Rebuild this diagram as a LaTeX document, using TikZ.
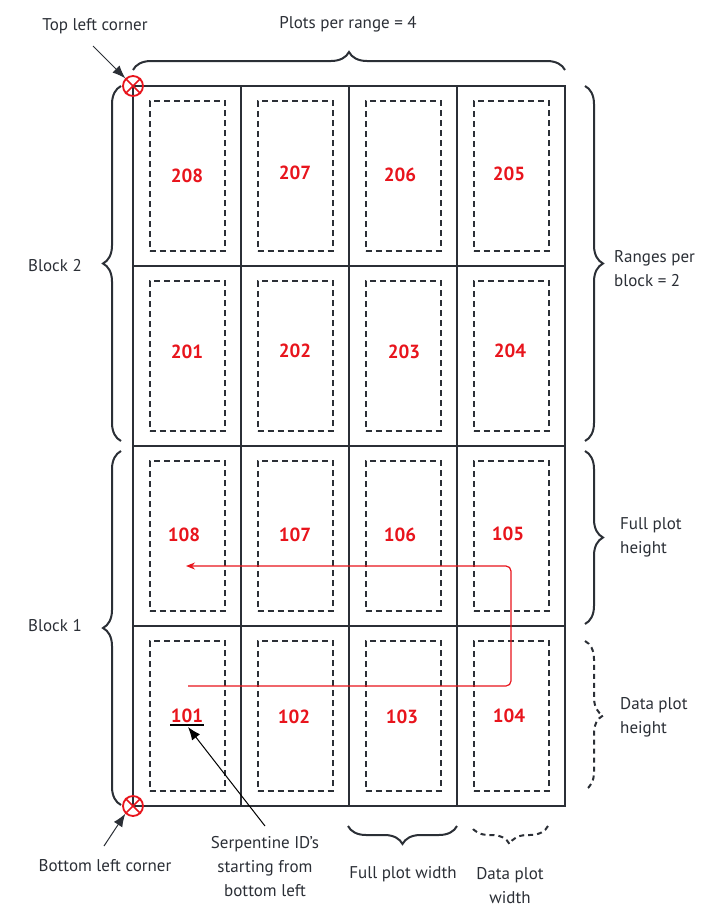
\documentclass[tikz,border=0pt]{standalone}
\usepackage{fontspec}
\setmainfont{PT Sans}
\usetikzlibrary{decorations.pathreplacing,arrows.meta}
\definecolor{ink}{HTML}{2B2F36}
\definecolor{idred}{HTML}{E8141C}
\begin{document}
\begin{tikzpicture}[x=1pt,y=-1pt,
 cell/.style={draw=ink,line width=2.2pt,minimum width=108pt,minimum height=180pt,inner sep=0pt},
 datarect/.style={draw=ink,line width=2pt,dash pattern=on 6pt off 4pt,minimum width=75pt,minimum height=150pt,inner sep=0pt},
 num/.style={text=idred,inner sep=1pt,font=\fontsize{19}{19}\selectfont\bfseries},
 lbl/.style={text=ink,inner sep=0pt,font=\fontsize{17}{24}\selectfont},
 brc/.style={draw=ink,line width=2pt,decorate,decoration={brace,amplitude=18pt}},
 dbrc/.style={brc,dash pattern=on 5pt off 4pt},
 corner/.style={circle,draw=idred,line width=1.8pt,minimum size=20pt,inner sep=0pt},
 pointer/.style={draw=ink,line width=1pt,-{Latex[length=13pt,width=10pt]}},
 serp/.style={draw=idred,line width=1.2pt,rounded corners=5pt,-{Stealth[length=9pt,width=7pt]}}
]
\useasboundingbox (0,0) rectangle (726,924);
% cells and data plots
\foreach \id/\cx/\cy/\nx/\ny in {
 208/187/176/187/176, 207/295/176/295/173, 206/403/176/400/175, 205/511/176/509/174,
 201/187/356/187/352, 202/295/356/295/351, 203/403/356/404/352, 204/511/356/510/351,
 108/187/536/184/535, 107/295/536/295/535, 106/403/536/400/535, 105/511/536/508/534,
 101/187/716/187/716, 102/295/716/294/717, 103/403/716/402/717, 104/511/716/509/716}{
 \node[cell] (c\id) at (\cx,\cy) {};
 \node[datarect] (d\id) at (\cx,\cy) {};
 \node[num] (n\id) at (\nx,\ny) {\id};
}
% serpentine path
\coordinate (rs) at (188,686);
\coordinate (re) at (186,566);
\draw[serp] (rs) -- (511,686) -- (511,566) -- (re);
% underline and pointer for 101
\coordinate (ula) at (170,725);
\coordinate (ulb) at (204,725);
\draw[black,line width=1.2pt] (ula) -- (ulb);
\coordinate (ulm) at (188,727);
\node[lbl,align=center] (serpt) at (265,867) {Serpentine ID's\\starting from\\bottom left};
\draw[pointer,draw=black] (265,826) -- (ulm);
% corners
\node[corner] (tl) at (133,86) {};
\draw[idred,line width=1.6pt] (tl.45) -- (tl.225) (tl.135) -- (tl.315);
\node[corner] (bl) at (133,806) {};
\draw[idred,line width=1.6pt] (bl.45) -- (bl.225) (bl.135) -- (bl.315);
\node[lbl] (tlt) at (95,26) {Top left corner};
\coordinate (tla) at (93,46);
\draw[pointer] (tla) -- (tl.135);
\node[lbl] (blt) at (105,866) {Bottom left corner};
\coordinate (bla) at (104,846);
\draw[pointer] (bla) -- (bl.225);
% top brace
\node[lbl] (ppr) at (348,24) {Plots per range = 4};
\coordinate (tb1) at (133,70);
\coordinate (tb2) at (565,70);
\draw[brc] (tb1) -- (tb2);
% left braces
\coordinate (lb1) at (121,805);
\coordinate (lb2) at (121,451);
\coordinate (lb3) at (121,441);
\coordinate (lb4) at (121,86);
\draw[brc] (lb1) -- (lb2);
\draw[brc] (lb3) -- (lb4);
\node[lbl] (blk1) at (55,626) {Block 1};
\node[lbl] (blk2) at (55,266) {Block 2};
% right braces
\coordinate (rb1) at (585,86);
\coordinate (rb2) at (585,441);
\coordinate (rb3) at (585,451);
\coordinate (rb4) at (585,624);
\coordinate (rb5) at (585,641);
\coordinate (rb6) at (585,790);
\draw[brc] (rb1) -- (rb2);
\draw[brc] (rb3) -- (rb4);
\draw[dbrc] (rb5) -- (rb6);
\node[lbl,anchor=west,align=left] (rpb) at (614,269) {Ranges per\\block = 2};
\node[lbl,anchor=west,align=left] (fph) at (620,537) {Full plot\\height};
\node[lbl,anchor=west,align=left] (dph) at (620,717) {Data plot\\height};
% bottom braces
\coordinate (bb1) at (457,826);
\coordinate (bb2) at (348,826);
\coordinate (bb3) at (548,826);
\coordinate (bb4) at (471,826);
\draw[brc] (bb1) -- (bb2);
\draw[dbrc] (bb3) -- (bb4);
\node[lbl] (fpw) at (403,874) {Full plot width};
\node[lbl,align=center] (dpw) at (510,886) {Data plot\\width};
\end{tikzpicture}
\end{document}
